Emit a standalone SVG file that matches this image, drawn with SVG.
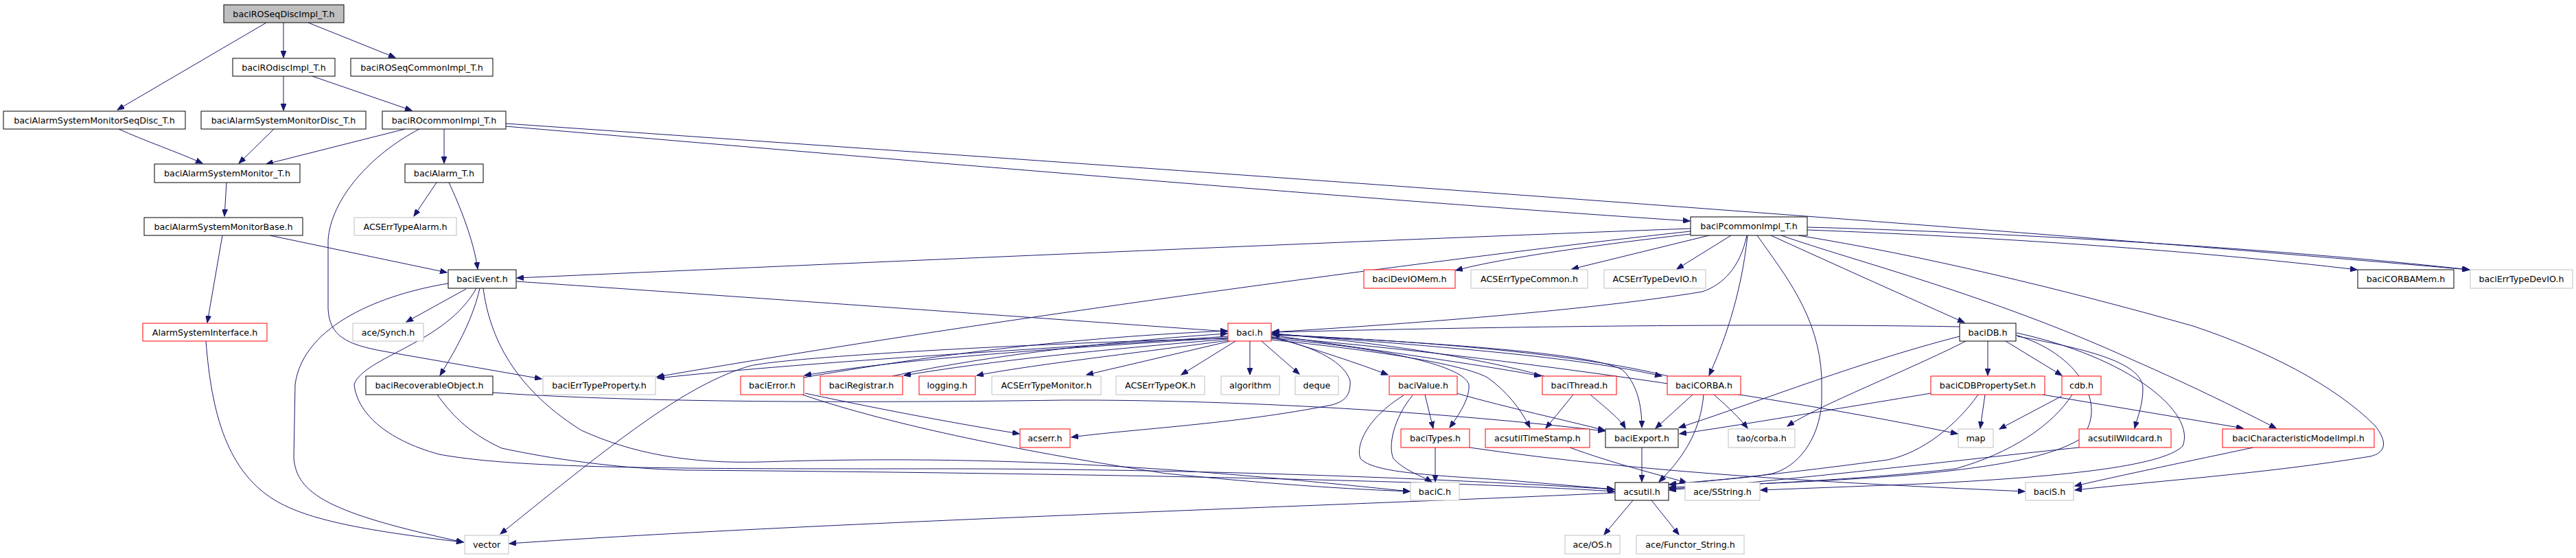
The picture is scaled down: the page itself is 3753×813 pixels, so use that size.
<svg xmlns="http://www.w3.org/2000/svg" width="3753" height="813" viewBox="0 0 3753 813">
<style>
rect{fill:#fff;stroke-width:1}
.k{stroke:#000}
.r{stroke:#ff0000}
.g{stroke:#bfbfbf}
.top{fill:#bfbfbf;stroke:#000}
text{font-family:"DejaVu Sans","Liberation Sans",sans-serif;font-size:12.7px;fill:#000;text-anchor:middle}
#edges path{fill:none;stroke:#191970;stroke-width:1;marker-end:url(#a)}
</style>
<defs>
<marker id="a" markerWidth="11" markerHeight="8" refX="10" refY="4" orient="auto" markerUnits="userSpaceOnUse"><path d="M0,0 L10,4 L0,8 z" fill="#191970" stroke="#191970" stroke-width="1"/></marker>
</defs>
<rect x="0" y="0" width="3753" height="813" style="fill:#fff;stroke:none"/>
<g id="edges">
<path d="M388,33 L171,160"/>
<path d="M413,33 L413,84"/>
<path d="M449,33 L576,84"/>
<path d="M413,111 L413,161"/>
<path d="M455,111 L600,161"/>
<path d="M173,188 C210,205 260,222 295,238"/>
<path d="M399,188 L348,238"/>
<path d="M590,188 L388,239"/>
<path d="M647,188 L647,238"/>
<path d="M611,188 C540,225 482,290 478,350 L478,450 C480,490 505,502 560,512 L789,552"/>
<path d="M636,266 L603,315"/>
<path d="M654,266 C670,300 690,350 696,392"/>
<path d="M330,266 L327,315"/>
<path d="M324,343 L302,470"/>
<path d="M393,343 L651,397"/>
<path d="M300,497 C308,600 330,690 406,732 C450,756 520,772 675,790"/>
<path d="M653,413 C560,428 442,472 430,560 L428,667 C432,720 480,748 675,790"/>
<path d="M679,421 L592,469"/>
<path d="M699,420 C690,460 670,500 641,547"/>
<path d="M694,420 C650,500 530,520 516,560 C520,600 560,640 640,662 C760,684 1000,683 1400,683 C1800,684 2150,700 2351,713"/>
<path d="M704,420 C712,480 740,560 847,627 C920,660 1000,676 1111,673 C1500,660 1800,690 2054,716"/>
<path d="M752,410 C900,420 1300,448 1788,483"/>
<path d="M718,572 C900,585 1200,588 1550,583 C1800,582 2100,600 2338,628"/>
<path d="M637,575 C655,600 680,630 731,653 C800,668 900,683 1000,685 C1600,690 2100,700 2352,716"/>
<path d="M737,184 C1300,232 2000,292 2462,322"/>
<path d="M737,180 C1500,233 2800,322 3597,393"/>
<path d="M2633,335 C2900,345 3200,365 3434,393"/>
<path d="M2633,331 C2900,338 3300,360 3598,393"/>
<path d="M2463,333 C2000,350 1200,385 753,405"/>
<path d="M2463,337 C2200,365 1500,455 957,549"/>
<path d="M2463,341 C2300,360 2180,378 2121,394"/>
<path d="M2490,343 L2290,392"/>
<path d="M2522,343 L2443,392"/>
<path d="M2545,343 C2535,390 2510,415 2480,425 C2300,455 2000,475 1853,484"/>
<path d="M2546,343 C2540,400 2525,470 2490,547"/>
<path d="M2560,343 C2600,400 2650,460 2654,550 L2654,587 C2650,640 2620,680 2582,690 C2540,698 2480,700 2432,706"/>
<path d="M2580,343 C2650,375 2750,420 2862,470"/>
<path d="M2595,343 C2700,380 2900,430 3104,523 C3200,565 3270,600 3316,624"/>
<path d="M2620,343 C2800,372 3000,420 3195,475 C3300,510 3400,560 3460,620 C3480,645 3475,660 3453,665 C3300,690 3150,700 3023,714"/>
<path d="M1789,490 C1500,510 1200,525 958,551"/>
<path d="M1789,492 C1500,510 1300,525 1172,547"/>
<path d="M1789,494 C1600,510 1450,525 1317,547"/>
<path d="M1789,496 C1650,515 1500,532 1423,547"/>
<path d="M1792,497 L1583,546"/>
<path d="M1800,497 L1721,546"/>
<path d="M1821,497 L1821,546"/>
<path d="M1838,497 L1893,545"/>
<path d="M1852,490 C1920,510 1980,530 2022,546"/>
<path d="M1852,488 C2000,510 2150,530 2245,548"/>
<path d="M1852,486 C2100,505 2300,520 2421,548"/>
<path d="M1852,487 C2100,500 2330,515 2365,540 C2385,560 2392,590 2392,623"/>
<path d="M1852,492 C1920,505 1960,530 1967,555 C1968,575 1960,585 1940,590 C1800,618 1650,625 1561,637"/>
<path d="M1852,493 C2000,505 2130,530 2140,560 C2142,580 2125,605 2112,623"/>
<path d="M1852,495 C2000,510 2130,530 2167,550 C2195,570 2215,595 2229,623"/>
<path d="M1852,491 C2200,520 2600,580 2852,632"/>
<path d="M1789,493 C1500,500 1150,520 1093,533 C1000,560 900,640 729,778"/>
<path d="M1171,550 C1400,510 1600,490 1788,482"/>
<path d="M1300,548 C1450,515 1650,495 1788,486"/>
<path d="M2250,548 C2150,520 2000,498 1854,486"/>
<path d="M2430,548 C2300,515 2050,495 1854,488"/>
<path d="M2855,476 C2500,470 2100,478 1854,484"/>
<path d="M2076,575 L2088,624"/>
<path d="M2122,573 C2200,595 2280,612 2338,627"/>
<path d="M2045,576 C1990,610 1975,650 1982,668 C2000,690 2100,693 2200,700 L2352,713"/>
<path d="M2058,576 C2030,610 2022,650 2030,668 C2045,685 2070,693 2086,702"/>
<path d="M2091,652 L2091,702"/>
<path d="M2141,652 C2400,690 2700,705 2950,716"/>
<path d="M2292,575 L2252,624"/>
<path d="M2317,575 C2340,595 2360,610 2368,624"/>
<path d="M2466,575 L2412,624"/>
<path d="M2482,575 C2478,620 2460,660 2417,702"/>
<path d="M2497,575 C2520,595 2535,610 2546,624"/>
<path d="M2392,652 L2392,702"/>
<path d="M2379,729 L2337,779"/>
<path d="M2406,729 L2446,779"/>
<path d="M2353,718 C2000,735 1200,760 742,792"/>
<path d="M2287,652 C2350,675 2410,690 2457,703"/>
<path d="M1173,573 C1300,600 1400,618 1485,632"/>
<path d="M1169,575 C1300,620 1500,660 1700,690 C1850,705 1950,712 2054,716"/>
<path d="M2896,497 L2896,547"/>
<path d="M2922,497 L3004,547"/>
<path d="M2939,490 C3050,510 3120,530 3122,565 C3122,590 3115,605 3110,624"/>
<path d="M2855,490 C2700,530 2550,590 2446,623"/>
<path d="M2864,497 C2780,540 2650,590 2604,621"/>
<path d="M2937,488 C3040,520 3070,600 3030,640 C2950,690 2700,700 2432,710"/>
<path d="M2938,485 C3100,520 3200,600 3180,650 C3150,680 3000,695 2800,705 L2565,714"/>
<path d="M2813,573 C2650,600 2500,625 2447,632"/>
<path d="M2882,575 C2850,620 2800,660 2750,670 C2600,690 2500,700 2432,706"/>
<path d="M2892,575 L2885,624"/>
<path d="M3004,577 L2913,625"/>
<path d="M3019,575 C2990,620 2930,660 2849,683 C2700,700 2550,705 2432,712"/>
<path d="M2976,575 L3268,624"/>
<path d="M3029,652 C2900,665 2700,690 2432,714"/>
<path d="M3283,652 C3150,680 3080,695 3023,708"/>
</g>
<g id="n1"><rect class="top" x="326" y="7" width="175" height="26"/><text x="413.5" y="24.5">baciROSeqDiscImpl_T.h</text></g>
<g id="n2"><rect class="k" x="339" y="85" width="149" height="26"/><text x="413.5" y="102.5">baciROdiscImpl_T.h</text></g>
<g id="n3"><rect class="k" x="511" y="85" width="207" height="26"/><text x="614.5" y="102.5">baciROSeqCommonImpl_T.h</text></g>
<g id="n4"><rect class="k" x="5" y="162" width="265" height="26"/><text x="137.5" y="179.5">baciAlarmSystemMonitorSeqDisc_T.h</text></g>
<g id="n5"><rect class="k" x="293" y="162" width="240" height="26"/><text x="413" y="179.5">baciAlarmSystemMonitorDisc_T.h</text></g>
<g id="n6"><rect class="k" x="557" y="162" width="180" height="26"/><text x="647" y="179.5">baciROcommonImpl_T.h</text></g>
<g id="n7"><rect class="k" x="225" y="239" width="212" height="27"/><text x="331" y="257">baciAlarmSystemMonitor_T.h</text></g>
<g id="n8"><rect class="k" x="590" y="239" width="114" height="27"/><text x="647" y="257">baciAlarm_T.h</text></g>
<g id="n9"><rect class="k" x="210" y="317" width="231" height="26"/><text x="325.5" y="334.5">baciAlarmSystemMonitorBase.h</text></g>
<g id="n10"><rect class="g" x="516" y="317" width="149" height="26"/><text x="590.5" y="334.5">ACSErrTypeAlarm.h</text></g>
<g id="n11"><rect class="k" x="653" y="393" width="99" height="27"/><text x="702.5" y="411">baciEvent.h</text></g>
<g id="n12"><rect class="r" x="208" y="471" width="181" height="26"/><text x="298.5" y="488.5">AlarmSystemInterface.h</text></g>
<g id="n13"><rect class="g" x="514" y="471" width="103" height="26"/><text x="565.5" y="488.5">ace/Synch.h</text></g>
<g id="n14"><rect class="k" x="533" y="548" width="185" height="27"/><text x="625.5" y="566">baciRecoverableObject.h</text></g>
<g id="n15"><rect class="g" x="677" y="780" width="64" height="27"/><text x="709" y="798">vector</text></g>
<g id="n16"><rect class="g" x="791" y="548" width="164" height="27"/><text x="873" y="566">baciErrTypeProperty.h</text></g>
<g id="n17"><rect class="r" x="1079" y="548" width="92" height="27"/><text x="1125" y="566">baciError.h</text></g>
<g id="n18"><rect class="r" x="1195" y="548" width="120" height="27"/><text x="1255" y="566">baciRegistrar.h</text></g>
<g id="n19"><rect class="r" x="1339" y="548" width="82" height="27"/><text x="1380" y="566">logging.h</text></g>
<g id="n20"><rect class="g" x="1445" y="548" width="159" height="27"/><text x="1524.5" y="566">ACSErrTypeMonitor.h</text></g>
<g id="n21"><rect class="g" x="1626" y="548" width="129" height="27"/><text x="1690.5" y="566">ACSErrTypeOK.h</text></g>
<g id="n22"><rect class="g" x="1779" y="548" width="85" height="27"/><text x="1821.5" y="566">algorithm</text></g>
<g id="n23"><rect class="g" x="1887" y="548" width="63" height="27"/><text x="1918.5" y="566">deque</text></g>
<g id="n24"><rect class="r" x="2024" y="548" width="99" height="27"/><text x="2073.5" y="566">baciValue.h</text></g>
<g id="n25"><rect class="r" x="1789" y="471" width="63" height="26"/><text x="1820.5" y="488.5">baci.h</text></g>
<g id="n26"><rect class="r" x="1486" y="625" width="73" height="27"/><text x="1522.5" y="643">acserr.h</text></g>
<g id="n27"><rect class="r" x="2041" y="625" width="100" height="27"/><text x="2091" y="643">baciTypes.h</text></g>
<g id="n28"><rect class="g" x="2055" y="703" width="71" height="26"/><text x="2090.5" y="720.5">baciC.h</text></g>
<g id="n29"><rect class="r" x="1987" y="393" width="133" height="27"/><text x="2053.5" y="411">baciDevIOMem.h</text></g>
<g id="n30"><rect class="k" x="2463" y="316" width="170" height="27"/><text x="2548" y="334">baciPcommonImpl_T.h</text></g>
<g id="n31"><rect class="g" x="2143" y="393" width="170" height="27"/><text x="2228" y="411">ACSErrTypeCommon.h</text></g>
<g id="n32"><rect class="g" x="2337" y="393" width="148" height="27"/><text x="2411" y="411">ACSErrTypeDevIO.h</text></g>
<g id="n33"><rect class="r" x="2247" y="548" width="108" height="27"/><text x="2301" y="566">baciThread.h</text></g>
<g id="n34"><rect class="r" x="2429" y="548" width="107" height="27"/><text x="2482.5" y="566">baciCORBA.h</text></g>
<g id="n35"><rect class="r" x="2164" y="625" width="152" height="27"/><text x="2240" y="643">acsutilTimeStamp.h</text></g>
<g id="n36"><rect class="k" x="2339" y="625" width="106" height="27"/><text x="2392" y="643">baciExport.h</text></g>
<g id="n37"><rect class="g" x="2518" y="625" width="97" height="27"/><text x="2566.5" y="643">tao/corba.h</text></g>
<g id="n38"><rect class="k" x="2353" y="703" width="78" height="26"/><text x="2392" y="720.5">acsutil.h</text></g>
<g id="n39"><rect class="g" x="2455" y="703" width="109" height="26"/><text x="2509.5" y="720.5">ace/SString.h</text></g>
<g id="n40"><rect class="g" x="2280" y="780" width="80" height="27"/><text x="2320" y="798">ace/OS.h</text></g>
<g id="n41"><rect class="g" x="2384" y="780" width="157" height="27"/><text x="2462.5" y="798">ace/Functor_String.h</text></g>
<g id="n42"><rect class="k" x="2855" y="471" width="82" height="26"/><text x="2896" y="488.5">baciDB.h</text></g>
<g id="n43"><rect class="r" x="2813" y="548" width="166" height="27"/><text x="2896" y="566">baciCDBPropertySet.h</text></g>
<g id="n44"><rect class="r" x="3004" y="548" width="57" height="27"/><text x="3032.5" y="566">cdb.h</text></g>
<g id="n45"><rect class="g" x="2853" y="625" width="51" height="27"/><text x="2878.5" y="643">map</text></g>
<g id="n46"><rect class="r" x="3029" y="625" width="134" height="27"/><text x="3096" y="643">acsutilWildcard.h</text></g>
<g id="n47"><rect class="r" x="3238" y="625" width="221" height="27"/><text x="3348.5" y="643">baciCharacteristicModelImpl.h</text></g>
<g id="n48"><rect class="g" x="2951" y="703" width="70" height="26"/><text x="2986" y="720.5">baciS.h</text></g>
<g id="n49"><rect class="k" x="3435" y="393" width="140" height="27"/><text x="3505" y="411">baciCORBAMem.h</text></g>
<g id="n50"><rect class="g" x="3599" y="393" width="149" height="27"/><text x="3673.5" y="411">baciErrTypeDevIO.h</text></g>
</svg>
